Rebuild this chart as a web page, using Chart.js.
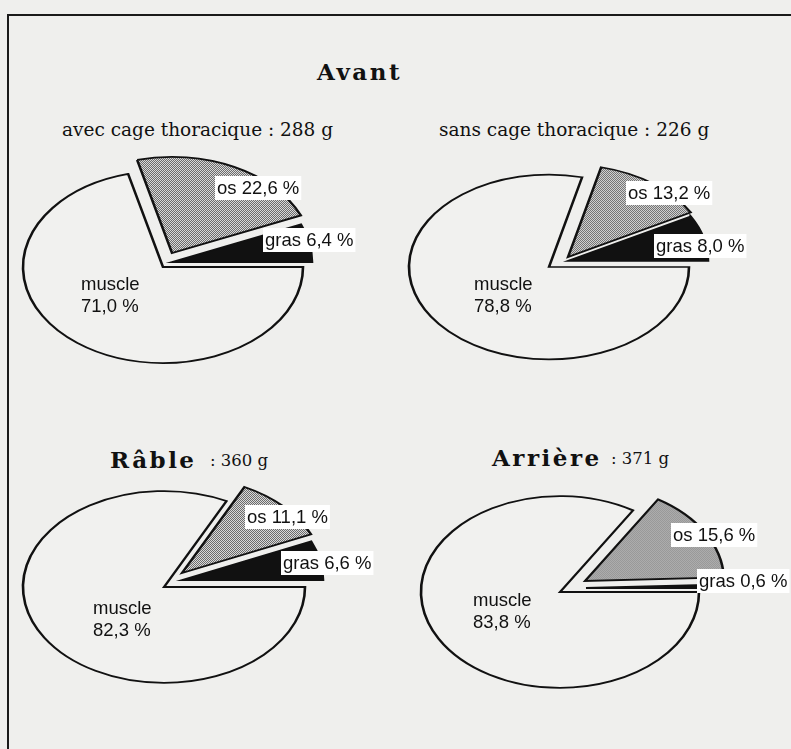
<!DOCTYPE html>
<html><head><meta charset="utf-8">
<script src="https://cdn.jsdelivr.net/npm/chart.js@4.4.0/dist/chart.umd.min.js"></script>
<style>
html,body{margin:0;padding:0;background:#efefed;overflow:hidden}
#page{position:relative;width:791px;height:749px;overflow:hidden}
#frame{position:absolute;left:7px;top:14px;width:800px;height:760px;border-left:2px solid #1a1a1a;border-top:2px solid #1a1a1a}
canvas{position:absolute;left:0;top:0}
.t{position:absolute;white-space:nowrap;color:#111;font-family:"DejaVu Serif",serif;line-height:1}
.b{font-weight:bold;font-size:23px;letter-spacing:2.5px}
.s{font-size:18.5px}
.w{font-size:16.5px}
</style></head>
<body><div id="page">
<div id="frame"></div>
<div class="t b" id="t0" style="left:317px;top:59.5px"></div>
<div class="t s" id="s0" style="left:62px;top:121.3px"></div>
<div class="t s" id="s1" style="left:439px;top:121.3px"></div>
<div class="t b" id="t2" style="left:110px;top:447.5px"></div>
<div class="t w" id="w2" style="left:210px;top:453px"></div>
<div class="t b" id="t3" style="left:492px;top:445.5px"></div>
<div class="t w" id="w3" style="left:611px;top:451px"></div>
<canvas id="c0" width="791" height="749"></canvas>
<canvas id="c1" width="791" height="749"></canvas>
<canvas id="c2" width="791" height="749"></canvas>
<canvas id="c3" width="791" height="749"></canvas>
</div>
<script>
// ---- data ----
const categories = ['muscle', 'os', 'gras'];
const avantAvecValues = [71.0, 22.6, 6.4];
const avantSansValues = [78.8, 13.2, 8.0];
const rableValues = [82.3, 11.1, 6.6];
const arriereValues = [83.8, 15.6, 0.6];
const cutNames = ['Avant', 'Avant', 'Râble', 'Arrière'];
const cutVariants = ['avec cage thoracique', 'sans cage thoracique', '', ''];
const cutWeights = [288, 226, 360, 371];

// ---- layout (positions / styles) ----
const W = 791, H = 749;
const layouts = [
  {cx:163, cy:267, rx:140, ratio:0.686, shift:[[0,0],[9,-14],[9,-5]],  pos:{muscle:[-82,23], os:[54,-73], gras:[102,-21]}},
  {cx:549, cy:267, rx:140, ratio:0.66,  shift:[[0,0],[19,-10],[19,-6]], pos:{muscle:[-75,23], os:[79,-68], gras:[107,-15]}},
  {cx:164, cy:587, rx:141, ratio:0.68,  shift:[[0,0],[18,-14],[18,-7]], pos:{muscle:[-71,27], os:[83,-64], gras:[119,-18]}},
  {cx:560, cy:592, rx:139, ratio:0.69,  shift:[[0,0],[25,-11],[26,-4]], pos:{muscle:[-87,14], os:[113,-51], gras:[139,-5]}}
];

// titles (text from data)
document.getElementById('t0').textContent = cutNames[0];
document.getElementById('s0').textContent = cutVariants[0] + '\u00a0: ' + cutWeights[0] + ' g';
document.getElementById('s1').textContent = cutVariants[1] + '\u00a0: ' + cutWeights[1] + ' g';
document.getElementById('t2').textContent = cutNames[2];
document.getElementById('w2').textContent = ': ' + cutWeights[2] + ' g';
document.getElementById('t3').textContent = cutNames[3];
document.getElementById('w3').textContent = ': ' + cutWeights[3] + ' g';

const fmt = v => v.toFixed(1).replace('.', ',');

function osPattern(ratio) {
  const p = document.createElement('canvas');
  p.width = 2; p.height = 2;
  const g = p.getContext('2d');
  g.fillStyle = '#ececec'; g.fillRect(0, 0, 2, 2);
  g.fillStyle = '#5a5a5a'; g.fillRect(0, 0, 1, 1); g.fillRect(1, 1, 1, 1);
  const pat = document.createElement('canvas').getContext('2d').createPattern(p, 'repeat');
  try { pat.setTransform(new DOMMatrix([1, 0, 0, 1 / ratio, 0, 0])); } catch (e) {}
  return pat;
}

function makePie(id, values, L) {
  const pad = {
    left: Math.max(0, 2 * L.cx - W), right: Math.max(0, W - 2 * L.cx),
    top: Math.max(0, 2 * L.cy - H), bottom: Math.max(0, H - 2 * L.cy)
  };
  const squash = {
    id: 'squash' + id,
    beforeDatasetsDraw(chart) {
      const meta = chart.getDatasetMeta(0);
      // explode slices: translate each arc (in squashed space)
      meta.data.forEach((arc, i) => {
        if (arc._exploded) return;
        const orig = arc.draw;
        arc.draw = function (ctx, area) {
          const s = L.shift[i];
          ctx.save();
          ctx.translate(s[0], s[1] / L.ratio);
          orig.call(this, ctx, area);
          ctx.restore();
        };
        arc._exploded = true;
      });
      const a = meta.data[0];
      const ctx = chart.ctx;
      ctx.save();
      ctx.translate(a.x, a.y); ctx.scale(1, L.ratio); ctx.translate(-a.x, -a.y);
    },
    afterDatasetsDraw(chart) { chart.ctx.restore(); }
  };
  const labels = {
    id: 'labels' + id,
    afterDraw(chart) {
      const a = chart.getDatasetMeta(0).data[0];
      const ctx = chart.ctx;
      const vals = chart.data.datasets[0].data;
      ctx.save();
      ctx.font = '18.5px "Liberation Sans", Arial, sans-serif';
      ctx.textBaseline = 'alphabetic';
      chart.data.labels.forEach((name, i) => {
        const p = L.pos[name];
        const x = a.x + p[0], y = a.y + p[1];
        const txt = fmt(vals[i]) + ' %';
        if (i === 0) {
          ctx.fillStyle = '#111';
          ctx.fillText(name, x, y);
          ctx.fillText(txt, x, y + 22);
        } else {
          const s = name + ' ' + txt;
          const w = ctx.measureText(s).width;
          ctx.fillStyle = '#ffffff';
          ctx.fillRect(x - 2, y - 18, w + 4, 24);
          ctx.fillStyle = '#111';
          ctx.fillText(s, x, y);
        }
      });
      ctx.restore();
    }
  };
  new Chart(document.getElementById(id), {
    type: 'pie',
    data: {
      labels: categories,
      datasets: [{
        data: values,
        backgroundColor: ['rgba(255,255,255,0.12)', osPattern(L.ratio), '#111111'],
        borderColor: '#111111',
        borderWidth: 2.6,
        borderJoinStyle: 'miter',
        offset: 0,
        clip: false
      }]
    },
    options: {
      responsive: false,
      animation: false,
      devicePixelRatio: 1,
      events: [],
      rotation: 90,
      radius: L.rx,
      layout: {padding: pad},
      plugins: {legend: {display: false}, tooltip: {enabled: false}, title: {display: false}}
    },
    plugins: [squash, labels]
  });
}

makePie('c0', avantAvecValues, layouts[0]);
makePie('c1', avantSansValues, layouts[1]);
makePie('c2', rableValues, layouts[2]);
makePie('c3', arriereValues, layouts[3]);
</script>
</body></html>
